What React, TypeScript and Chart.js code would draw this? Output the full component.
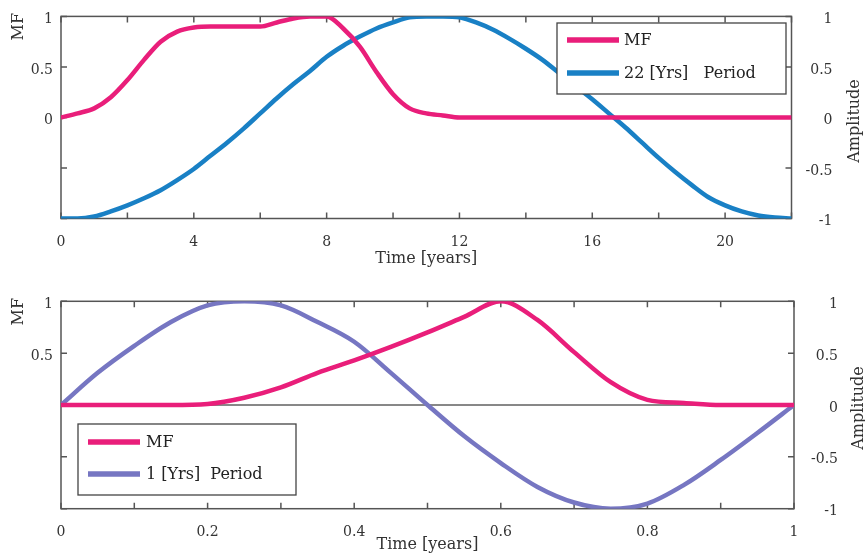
import React, { useEffect, useRef } from 'react';
import { Chart, registerables } from 'chart.js';

Chart.register(...registerables);

const FONT = '"DejaVu Serif", serif';
const TEXT = '#333333';
const PINK = 'rgb(233, 30, 122)';
const BLUE = 'rgb(25, 128, 197)';
const PURPLE = 'rgb(118, 118, 194)';

// ---------- top panel: 22-year period ----------
const topYears = [
  0, 0.5, 1, 1.5, 2, 2.5, 3, 3.5, 4, 4.5, 5, 5.5, 6, 6.5, 7, 7.5, 8, 8.5, 9, 9.5, 10, 10.5,
  11, 11.5, 12, 12.5, 13, 13.5, 14, 14.5, 15, 15.5, 16, 16.5, 17, 17.5, 18, 18.5, 19, 19.5,
  20, 20.5, 21, 21.5, 22,
];
const topMF = [
  0, 0.04, 0.09, 0.2, 0.37, 0.57, 0.75, 0.85, 0.89, 0.9, 0.9, 0.9, 0.9, 0.94, 0.98, 1, 1,
  0.88, 0.7, 0.45, 0.23, 0.09, 0.04, 0.02, 0, 0, 0, 0, 0, 0, 0, 0, 0, 0, 0, 0, 0, 0, 0, 0,
  0, 0, 0, 0, 0,
];
const topPeriod22 = [
  -1, -1, -0.98, -0.93, -0.87, -0.8, -0.72, -0.62, -0.51, -0.38, -0.25, -0.11, 0.04, 0.19,
  0.33, 0.46, 0.6, 0.71, 0.8, 0.88, 0.94, 0.99, 1, 1, 0.99, 0.94, 0.87, 0.78, 0.68, 0.57,
  0.44, 0.31, 0.18, 0.04, -0.1, -0.25, -0.4, -0.54, -0.67, -0.79, -0.87, -0.93, -0.97,
  -0.99, -1,
];
const topXTickLabels = ['0', '4', '8', '12', '16', '20'];
const topLeftTickLabels = ['0', '0.5', '1'];
const topLegendLabels = ['MF', '22 [Yrs]   Period'];

// ---------- bottom panel: 1-year period ----------
const bottomTime = [
  0, 0.05, 0.1, 0.15, 0.2, 0.25, 0.3, 0.35, 0.4, 0.45, 0.5, 0.55, 0.6, 0.65, 0.7, 0.75, 0.8,
  0.85, 0.9, 0.95, 1,
];
const bottomMF = [
  0, 0, 0, 0, 0.01, 0.07, 0.17, 0.31, 0.43, 0.56, 0.7, 0.85, 1, 0.82, 0.51, 0.22, 0.05, 0.02,
  0, 0, 0,
];
const bottomPeriod1 = [
  0, 0.31, 0.57, 0.8, 0.96, 1, 0.96, 0.8, 0.61, 0.31, 0, -0.3, -0.56, -0.79, -0.94, -1,
  -0.95, -0.77, -0.53, -0.27, 0,
];
const bottomXTickLabels = ['0', '0.2', '0.4', '0.6', '0.8', '1'];
const bottomLeftTickLabels = ['0.5', '1'];
const bottomLegendLabels = ['MF', '1 [Yrs]  Period'];

const rightTickLabels = ['-1', '-0.5', '0', '0.5', '1'];
const leftTitle = 'MF';
const rightTitle = 'Amplitude';
const xTitle = 'Time [years]';

const decorPlugin = {
  id: 'decor',
  beforeDatasetsDraw(chart: any, _a: any, o: any) {
    const { ctx, chartArea: a } = chart;
    const xs = chart.scales.x;
    const ys = chart.scales.y;
    ctx.save();
    if (o.zeroLine) {
      const y0 = ys.getPixelForValue(0);
      ctx.strokeStyle = '#111';
      ctx.lineWidth = 1;
      ctx.beginPath();
      ctx.moveTo(a.left, y0);
      ctx.lineTo(a.right, y0);
      ctx.stroke();
    }
    ctx.strokeStyle = '#555';
    ctx.lineWidth = 1.5;
    ctx.strokeRect(a.left, a.top, a.right - a.left, a.bottom - a.top);
    const L = 6;
    ctx.beginPath();
    xs.ticks.forEach((t: any) => {
      const px = xs.getPixelForValue(t.value);
      ctx.moveTo(px, a.top);
      ctx.lineTo(px, a.top + L);
      ctx.moveTo(px, a.bottom);
      ctx.lineTo(px, a.bottom - L);
    });
    ys.ticks.forEach((t: any) => {
      const py = ys.getPixelForValue(t.value);
      ctx.moveTo(a.left, py);
      ctx.lineTo(a.left + L, py);
      ctx.moveTo(a.right, py);
      ctx.lineTo(a.right - L, py);
    });
    ctx.stroke();
    ctx.restore();
  },
  afterDatasetsDraw(chart: any, _a: any, o: any) {
    const { ctx } = chart;
    const lg = o.legend;
    ctx.save();
    ctx.fillStyle = '#fff';
    ctx.fillRect(lg.x, lg.y, lg.w, lg.h);
    ctx.strokeStyle = '#444';
    ctx.lineWidth = 1.3;
    ctx.strokeRect(lg.x, lg.y, lg.w, lg.h);
    chart.data.datasets.forEach((ds: any, i: number) => {
      const y = lg.rows[i];
      ctx.strokeStyle = ds.borderColor;
      ctx.lineWidth = 5.5;
      ctx.beginPath();
      ctx.moveTo(lg.x1, y);
      ctx.lineTo(lg.x2, y);
      ctx.stroke();
      ctx.fillStyle = '#222';
      ctx.font = `16px ${FONT}`;
      ctx.textAlign = 'left';
      ctx.textBaseline = 'middle';
      ctx.fillText(ds.label, lg.tx, y + 1);
    });
    ctx.restore();
  },
  afterDraw(chart: any, _a: any, o: any) {
    const { ctx } = chart;
    ctx.save();
    ctx.fillStyle = TEXT;
    ctx.font = `16px ${FONT}`;
    ctx.textBaseline = 'middle';
    ctx.translate(o.leftTitle.x, o.leftTitle.y);
    ctx.rotate(-Math.PI / 2);
    ctx.textAlign = 'right';
    ctx.fillText(leftTitle, 0, 0);
    ctx.restore();
    ctx.save();
    ctx.fillStyle = TEXT;
    ctx.font = `16px ${FONT}`;
    ctx.textBaseline = 'middle';
    ctx.translate(o.rightTitle.x, o.rightTitle.y);
    ctx.rotate(-Math.PI / 2);
    ctx.textAlign = 'center';
    ctx.fillText(rightTitle, 0, 0);
    ctx.restore();
  },
};

function makeConfig(p: any) {
  const pick = (list: string[]) => (v: any) => {
    const s = String(v);
    return list.includes(s) ? s : '';
  };
  return {
    type: 'line',
    data: {
      datasets: [
        {
          label: p.legendLabels[0],
          data: p.xs.map((x: number, i: number) => ({ x, y: p.mf[i] })),
          borderColor: PINK,
          borderWidth: 4.5,
          pointRadius: 0,
          cubicInterpolationMode: 'monotone',
          yAxisID: 'y',
        },
        {
          label: p.legendLabels[1],
          data: p.xs.map((x: number, i: number) => ({ x, y: p.period[i] })),
          borderColor: p.periodColor,
          borderWidth: 4.5,
          pointRadius: 0,
          cubicInterpolationMode: 'monotone',
          yAxisID: 'y2',
        },
      ],
    },
    options: {
      responsive: false,
      animation: false,
      layout: { padding: { top: p.padTop, right: p.padRight, left: 0, bottom: 0 } },
      plugins: {
        legend: { display: false },
        tooltip: { enabled: false },
        decor: {
          zeroLine: p.zeroLine,
          legend: p.legend,
          leftTitle: p.leftTitlePos,
          rightTitle: p.rightTitlePos,
        },
      },
      scales: {
        x: {
          type: 'linear',
          min: p.xMin,
          max: p.xMax,
          grid: { display: false, drawTicks: false },
          border: { display: false },
          ticks: {
            stepSize: p.xStep,
            autoSkip: false,
            maxRotation: 0,
            padding: 15,
            color: TEXT,
            font: { family: FONT, size: 14 },
            callback: pick(p.xLabels),
          },
          title: {
            display: true,
            text: xTitle,
            color: TEXT,
            font: { family: FONT, size: 16 },
            padding: { top: 0, bottom: p.xTitlePad },
          },
          afterFit: (s: any) => {
            s.height = p.xAxisHeight;
          },
        },
        y: {
          type: 'linear',
          position: 'left',
          min: -1,
          max: 1,
          grid: { display: false, drawTicks: false },
          border: { display: false },
          ticks: {
            stepSize: 0.5,
            autoSkip: false,
            padding: 8,
            labelOffset: 3,
            color: TEXT,
            font: { family: FONT, size: 14 },
            callback: pick(p.leftLabels),
          },
          afterFit: (s: any) => {
            s.width = 61;
          },
        },
        y2: {
          type: 'linear',
          position: 'right',
          min: -1,
          max: 1,
          grid: { display: false, drawTicks: false },
          border: { display: false },
          ticks: {
            stepSize: 0.5,
            autoSkip: false,
            crossAlign: 'far',
            labelOffset: 3,
            color: TEXT,
            font: { family: FONT, size: 14 },
            callback: pick(rightTickLabels),
          },
          afterFit: (s: any) => {
            s.width = p.rightAxisWidth;
          },
        },
      },
    },
    plugins: [decorPlugin],
  };
}

const topParams = {
  xs: topYears,
  mf: topMF,
  period: topPeriod22,
  periodColor: BLUE,
  legendLabels: topLegendLabels,
  xLabels: topXTickLabels,
  leftLabels: topLeftTickLabels,
  xMin: 0,
  xMax: 22,
  xStep: 2,
  padTop: 14.5,
  padRight: 32.5,
  rightAxisWidth: 41,
  xAxisHeight: 59.5,
  xTitlePad: 10,
  zeroLine: false,
  legend: { x: 557, y: 23, w: 229, h: 71, rows: [40, 73], x1: 567, x2: 619, tx: 624 },
  leftTitlePos: { x: 19, y: 13 },
  rightTitlePos: { x: 855, y: 121 },
};

const bottomParams = {
  xs: bottomTime,
  mf: bottomMF,
  period: bottomPeriod1,
  periodColor: PURPLE,
  legendLabels: bottomLegendLabels,
  xLabels: bottomXTickLabels,
  leftLabels: bottomLeftTickLabels,
  xMin: 0,
  xMax: 1,
  xStep: 0.1,
  padTop: 23.3,
  padRight: 27,
  rightAxisWidth: 44,
  xAxisHeight: 47.3,
  xTitlePad: 1.5,
  zeroLine: true,
  legend: { x: 78, y: 146, w: 218, h: 71, rows: [164, 196], x1: 88, x2: 140, tx: 146 },
  leftTitlePos: { x: 19, y: 20 },
  rightTitlePos: { x: 859, y: 130 },
};

function Panel({ params, top }: { params: any; top: number }) {
  const ref = useRef<HTMLCanvasElement>(null);
  useEffect(() => {
    if (!ref.current) return;
    const chart = new Chart(ref.current, makeConfig(params) as any);
    return () => chart.destroy();
  }, [params]);
  return (
    <canvas
      ref={ref}
      width={865}
      height={278}
      style={{ position: 'absolute', left: 0, top, width: 865, height: 278, display: 'block' }}
    />
  );
}

export default function App() {
  return (
    <div
      style={{
        position: 'absolute',
        left: 0,
        top: 0,
        width: 865,
        height: 556,
        background: '#ffffff',
        overflow: 'hidden',
      }}
    >
      <Panel params={topParams} top={0} />
      <Panel params={bottomParams} top={278} />
    </div>
  );
}
